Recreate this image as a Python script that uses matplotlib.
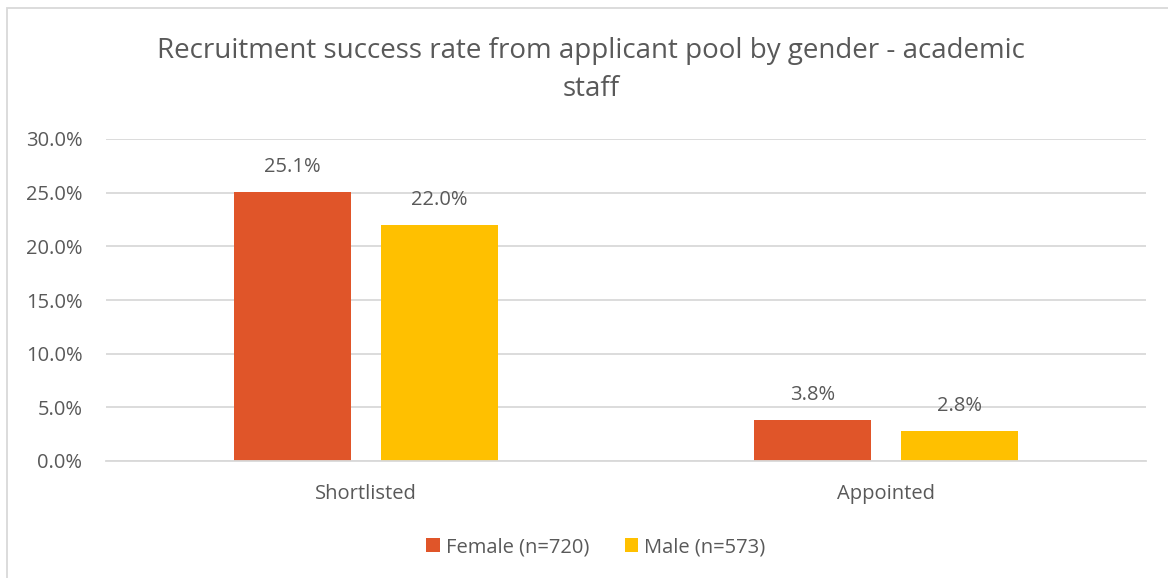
import matplotlib.pyplot as plt
import numpy as np
from matplotlib.patches import Rectangle

categories = ["Shortlisted", "Appointed"]
female = [0.251, 0.038]
male = [0.220, 0.028]
series_labels = ["Female (n=720)", "Male (n=573)"]
colors = ["#E05529", "#FFC000"]
yticks = [0.0, 0.05, 0.10, 0.15, 0.20, 0.25, 0.30]

plt.rcParams['font.family'] = ['Open Sans', 'DejaVu Sans']
txt = "#595959"

fig = plt.figure(figsize=(11.68, 5.78), dpi=100)
ax = fig.add_axes([106/1168, 1 - 461/578, 1040/1168, 322/578])

x = np.arange(len(categories))
w = 0.225
off = 0.1415
b1 = ax.bar(x - off, female, w, color=colors[0], label=series_labels[0])
b2 = ax.bar(x + off, male, w, color=colors[1], label=series_labels[1])

for bars, vals in ((b1, female), (b2, male)):
    for r, v in zip(bars, vals):
        ax.annotate(f"{v*100:.1f}%", (r.get_x() + r.get_width()/2, v),
                    xytext=(0, 18), textcoords="offset points",
                    ha="center", va="center", fontsize=14.5, color=txt)

ax.set_xlim(-0.5, 1.5)
ax.set_ylim(0, 0.30)
ax.set_yticks(yticks)
ax.set_yticklabels([f"{t*100:.1f}%" for t in yticks])
ax.set_xticks(x)
ax.set_xticklabels(categories)
ax.tick_params(axis='both', length=0, labelsize=14.5, labelcolor=txt)
ax.tick_params(axis='y', pad=17)
ax.tick_params(axis='x', pad=16.5)
ax.grid(axis='y', color="#D9D9D9", linewidth=1.3)
ax.set_axisbelow(True)
for s in ["top", "right", "left"]:
    ax.spines[s].set_visible(False)
ax.spines["bottom"].set_color("#D9D9D9")
ax.spines["bottom"].set_linewidth(1.3)

fig.text(591/1168, 1 - 70/578, "Recruitment success rate from applicant pool by gender - academic\nstaff",
         ha="center", va="center", fontsize=20, color=txt, linespacing=1.5)

leg = fig.legend(handles=[b1, b2], labels=series_labels, loc="center",
                 bbox_to_anchor=(596/1168, 1 - 547/578), ncol=2, frameon=False,
                 fontsize=14.5, handlelength=0.65, handleheight=0.65,
                 columnspacing=1.8, handletextpad=0.3, labelcolor=txt)

fig.patches.append(Rectangle((7/1168, -0.1), 1.2, 1 - 8/578 + 0.1,
                             transform=fig.transFigure, fill=False,
                             edgecolor="#D9D9D9", linewidth=1.3))

fig.savefig("out.png", dpi=100)
